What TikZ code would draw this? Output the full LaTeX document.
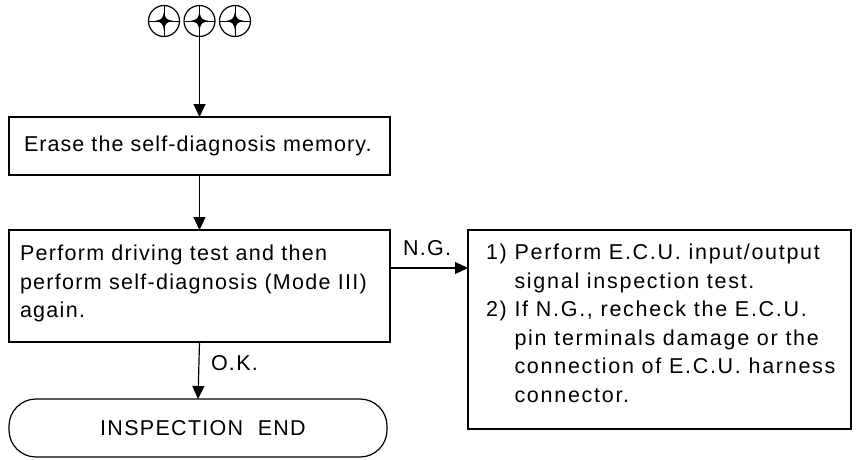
\documentclass[tikz,border=0pt]{standalone}
\usepackage{fontspec}
\setmainfont[LetterSpace=6]{Liberation Sans}
\newfontfamily\narrowls[LetterSpace=5]{Liberation Sans}
\newfontfamily\widels[LetterSpace=8]{Liberation Sans}
\usetikzlibrary{arrows.meta}
\tikzset{
  boxsty/.style={draw, line width=1.2pt, inner sep=0pt, outer sep=0pt},
  txt/.style={inner sep=0pt, outer sep=0pt, font=\fontsize{21.5}{28.5}\selectfont, align=left},
  lbl/.style={inner sep=0pt, outer sep=0pt, font=\fontsize{21.5}{28.5}\selectfont},
  conn/.style={line width=1.2pt, -{Triangle[length=13pt,width=12pt]}},
  symb/.style={circle, draw, line width=1.2pt, minimum size=31pt, inner sep=0pt, outer sep=0pt},
}
\newcommand{\crossstar}[1]{%
  \draw[line width=0.8pt] (#1.north) -- (#1.south) (#1.west) -- (#1.east);
  \fill ([yshift=-9pt]#1.center) .. controls ([xshift=1.8pt,yshift=-1.8pt]#1.center) .. ([xshift=9pt]#1.center)
        .. controls ([xshift=1.8pt,yshift=1.8pt]#1.center) .. ([yshift=9pt]#1.center)
        .. controls ([xshift=-1.8pt,yshift=1.8pt]#1.center) .. ([xshift=-9pt]#1.center)
        .. controls ([xshift=-1.8pt,yshift=-1.8pt]#1.center) .. cycle;
}
\begin{document}
\begin{tikzpicture}[x=1pt,y=-1pt]
\useasboundingbox (0,0) rectangle (856,459);
% symbols
\node[symb] (s1) at (164,21) {};
\node[symb] (s2) at (199.5,21) {};
\node[symb] (s3) at (235,21) {};
\crossstar{s1}\crossstar{s2}\crossstar{s3}
% box 1
\node[boxsty, minimum width=381pt, minimum height=58pt, anchor=north west] (b1) at (9,117) {};
\node[txt, font=\narrowls\fontsize{21.5}{28.5}\selectfont, anchor=west] (t1) at (24,146) {Erase the self-diagnosis memory.};
% box 2
\node[boxsty, minimum width=381pt, minimum height=112pt, anchor=north west] (b2) at (9,230) {};
\node[txt, anchor=north west] (t2) at (20,245) {Perform driving test and then\\perform self-diagnosis (Mode III)\\again.};
% box 3
\node[boxsty, minimum width=383pt, minimum height=199pt, anchor=north west] (b3) at (468,230) {};
\node[txt, font=\widels\fontsize{21.5}{28.5}\selectfont, anchor=north west] (t3) at (486,244) {1) Perform E.C.U. input/output\\
\phantom{1) }signal inspection test.\\
2) If N.G., recheck the E.C.U.\\
\phantom{2) }pin terminals damage or the\\
\phantom{2) }connection of E.C.U. harness\\
\phantom{2) }connector.};
% terminal
\node[boxsty, rounded corners=27pt, minimum width=378pt, minimum height=58pt, anchor=north west] (e) at (9,399) {};
\node[lbl] (te) at ([xshift=5pt]e.center) {INSPECTION\ \ END};
% connectors
\draw[conn] (s2.south) -- (b1.north);
\draw[conn] (b1.south) -- (b2.north);
\coordinate (ngs) at (b2.east |- 0,268);
\draw[conn] (ngs) -- (ngs -| b3.west);
\node[lbl, anchor=base west] (ng) at (403,255) {N.G.};
\draw[conn] (b2.south) -- (e.north);
\node[lbl, anchor=west] (ok) at (211,363) {O.K.};
\end{tikzpicture}
\end{document}
